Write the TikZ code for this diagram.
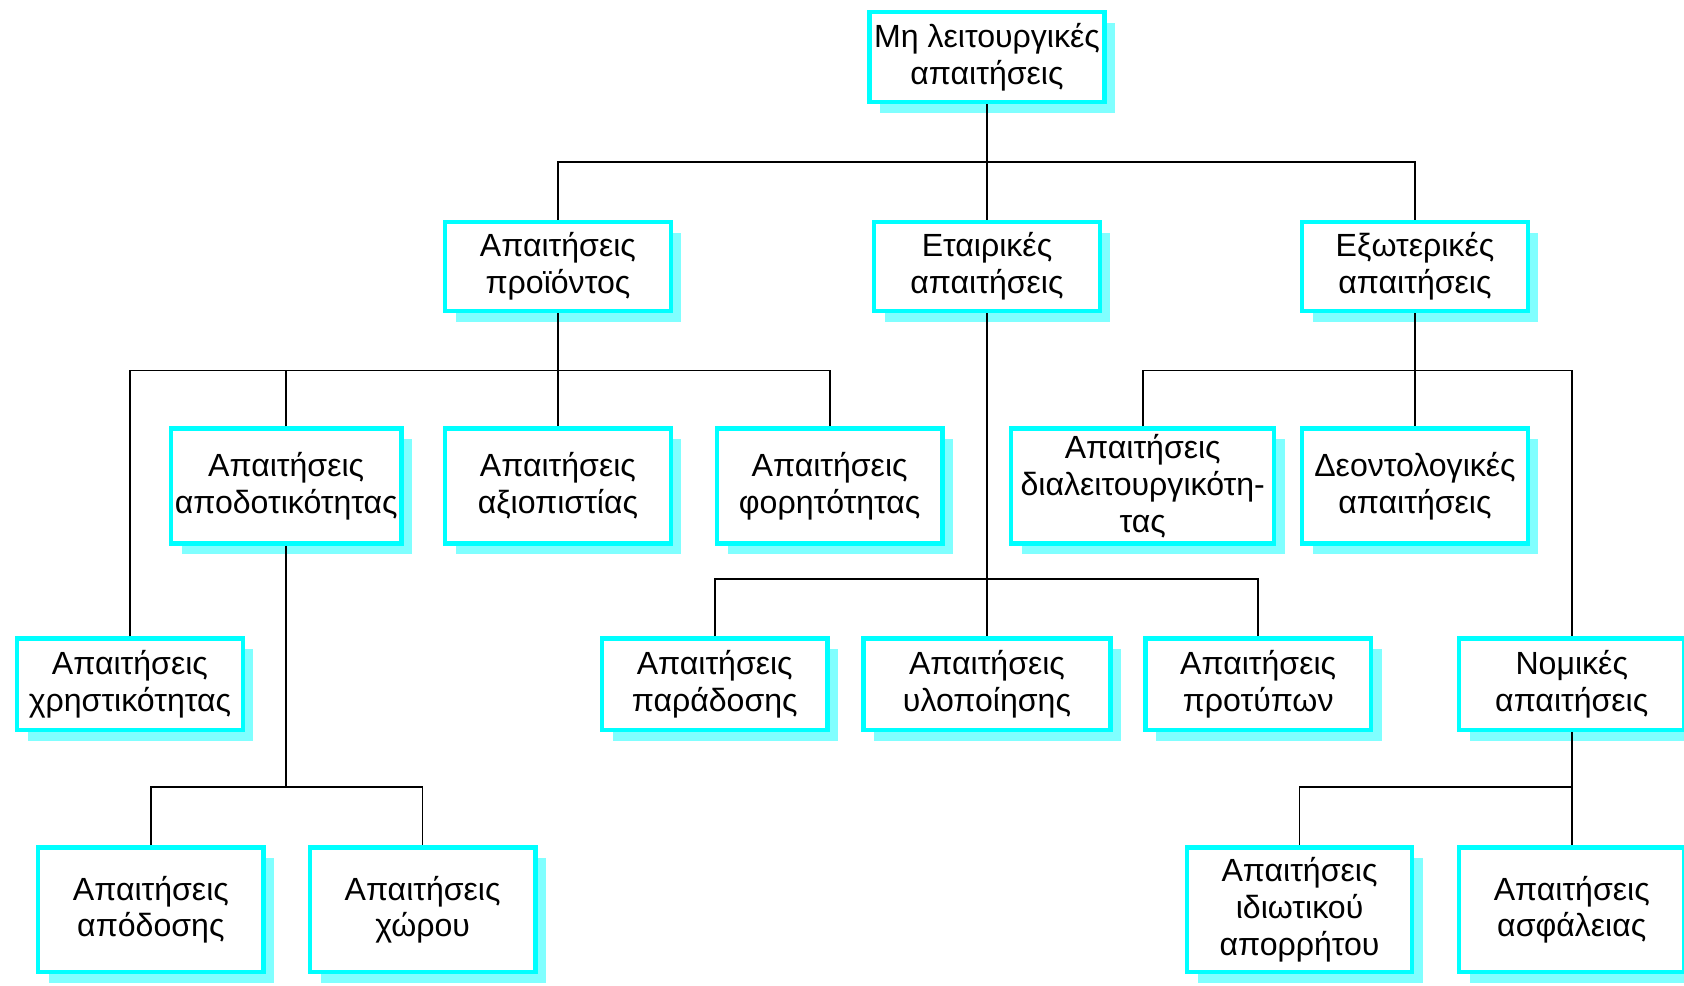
\documentclass[tikz,border=0pt]{standalone}
\usepackage{fontspec}
\setmainfont{Liberation Sans}
\usepackage{tikz}
\usetikzlibrary{shadows}
\definecolor{boxcyan}{HTML}{00FFFF}
\definecolor{shadecyan}{HTML}{80FFFF}

\begin{document}
\begin{tikzpicture}[x=0.02cm, y=-0.02cm,
        reqbox/.style={rectangle, draw=boxcyan, fill=white, line width=2.3pt, align=center,
            minimum width=4.2cm, inner sep=2pt,
            font=\fontsize{17}{19.5}\selectfont,
            general shadow={fill=shadecyan, shadow xshift=0.2cm, shadow yshift=-0.2cm}},
        link/.style={draw=black, line width=0.9pt}]
        \useasboundingbox (0,0) rectangle (1568,918);
        % top
        \node [reqbox, minimum width=4.38cm, minimum height=1.68cm] at (919, 53) (root) {Μη λειτουργικές\\απαιτήσεις};
        % level 1
        \node [reqbox, minimum height=1.66cm] at (519.5, 248) (prod) {Απαιτήσεις\\προϊόντος};
        \node [reqbox, minimum height=1.66cm] at (919, 248) (corp) {Εταιρικές\\απαιτήσεις};
        \node [reqbox, minimum height=1.66cm] at (1317.5, 248) (ext) {Εξωτερικές\\απαιτήσεις};
        % level 2
        \node [reqbox, minimum height=2.14cm] at (266.5, 452.5) (eff) {Απαιτήσεις\\αποδοτικότητας};
        \node [reqbox, minimum height=2.14cm] at (519.5, 452.5) (rel) {Απαιτήσεις\\αξιοπιστίας};
        \node [reqbox, minimum height=2.14cm] at (772.5, 452.5) (port) {Απαιτήσεις\\φορητότητας};
        \node [reqbox, minimum width=4.9cm, minimum height=2.14cm] at (1064, 452.5) (inter) {Απαιτήσεις\\διαλειτουργικότη-\\τας};
        \node [reqbox, minimum height=2.14cm] at (1317.5, 452.5) (deon) {Δεοντολογικές\\απαιτήσεις};
        % level 3
        \node [reqbox, minimum height=1.7cm] at (121, 637) (usab) {Απαιτήσεις\\χρηστικότητας};
        \node [reqbox, minimum height=1.7cm] at (665.5, 637) (deliv) {Απαιτήσεις\\παράδοσης};
        \node [reqbox, minimum width=4.6cm, minimum height=1.7cm] at (919, 637) (impl) {Απαιτήσεις\\υλοποίησης};
        \node [reqbox, minimum height=1.7cm] at (1171.5, 637) (std) {Απαιτήσεις\\προτύπων};
        \node [reqbox, minimum height=1.7cm] at (1463.5, 637) (legal) {Νομικές\\απαιτήσεις};
        % level 4
        \node [reqbox, minimum height=2.32cm] at (140.5, 847) (perf) {Απαιτήσεις\\απόδοσης};
        \node [reqbox, minimum height=2.32cm] at (393.5, 847) (space) {Απαιτήσεις\\χώρου};
        \node [reqbox, minimum height=2.32cm] at (1210, 847) (priv) {Απαιτήσεις\\ιδιωτικού\\απορρήτου};
        \node [reqbox, minimum height=2.32cm] at (1463.5, 847) (safe) {Απαιτήσεις\\ασφάλειας};
        % buses
        \coordinate (busA) at (919, 151);
        \coordinate (busB) at (519.5, 345);
        \coordinate (busC) at (919, 539);
        \coordinate (busD) at (1317.5, 345);
        \coordinate (busE) at (266.5, 733);
        \coordinate (busF) at (1463.5, 733);
        \draw[link] (root) -- (corp);
        \draw[link] (prod.north) |- (busA) -| (ext.north);
        \draw[link] (prod) -- (rel);
        \draw[link] (usab.north) |- (busB) -| (port.north);
        \draw[link] (eff.north) -- (eff.north |- busB);
        \draw[link] (corp) -- (impl);
        \draw[link] (deliv.north) |- (busC) -| (std.north);
        \draw[link] (ext) -- (deon);
        \draw[link] (inter.north) |- (busD) -| (legal.north);
        \draw[link] (eff) -- (busE);
        \draw[link] (perf.north) |- (busE) -| (space.north);
        \draw[link] (legal) -- (safe);
        \draw[link] (priv.north) |- (busF);
\end{tikzpicture}
\end{document}
